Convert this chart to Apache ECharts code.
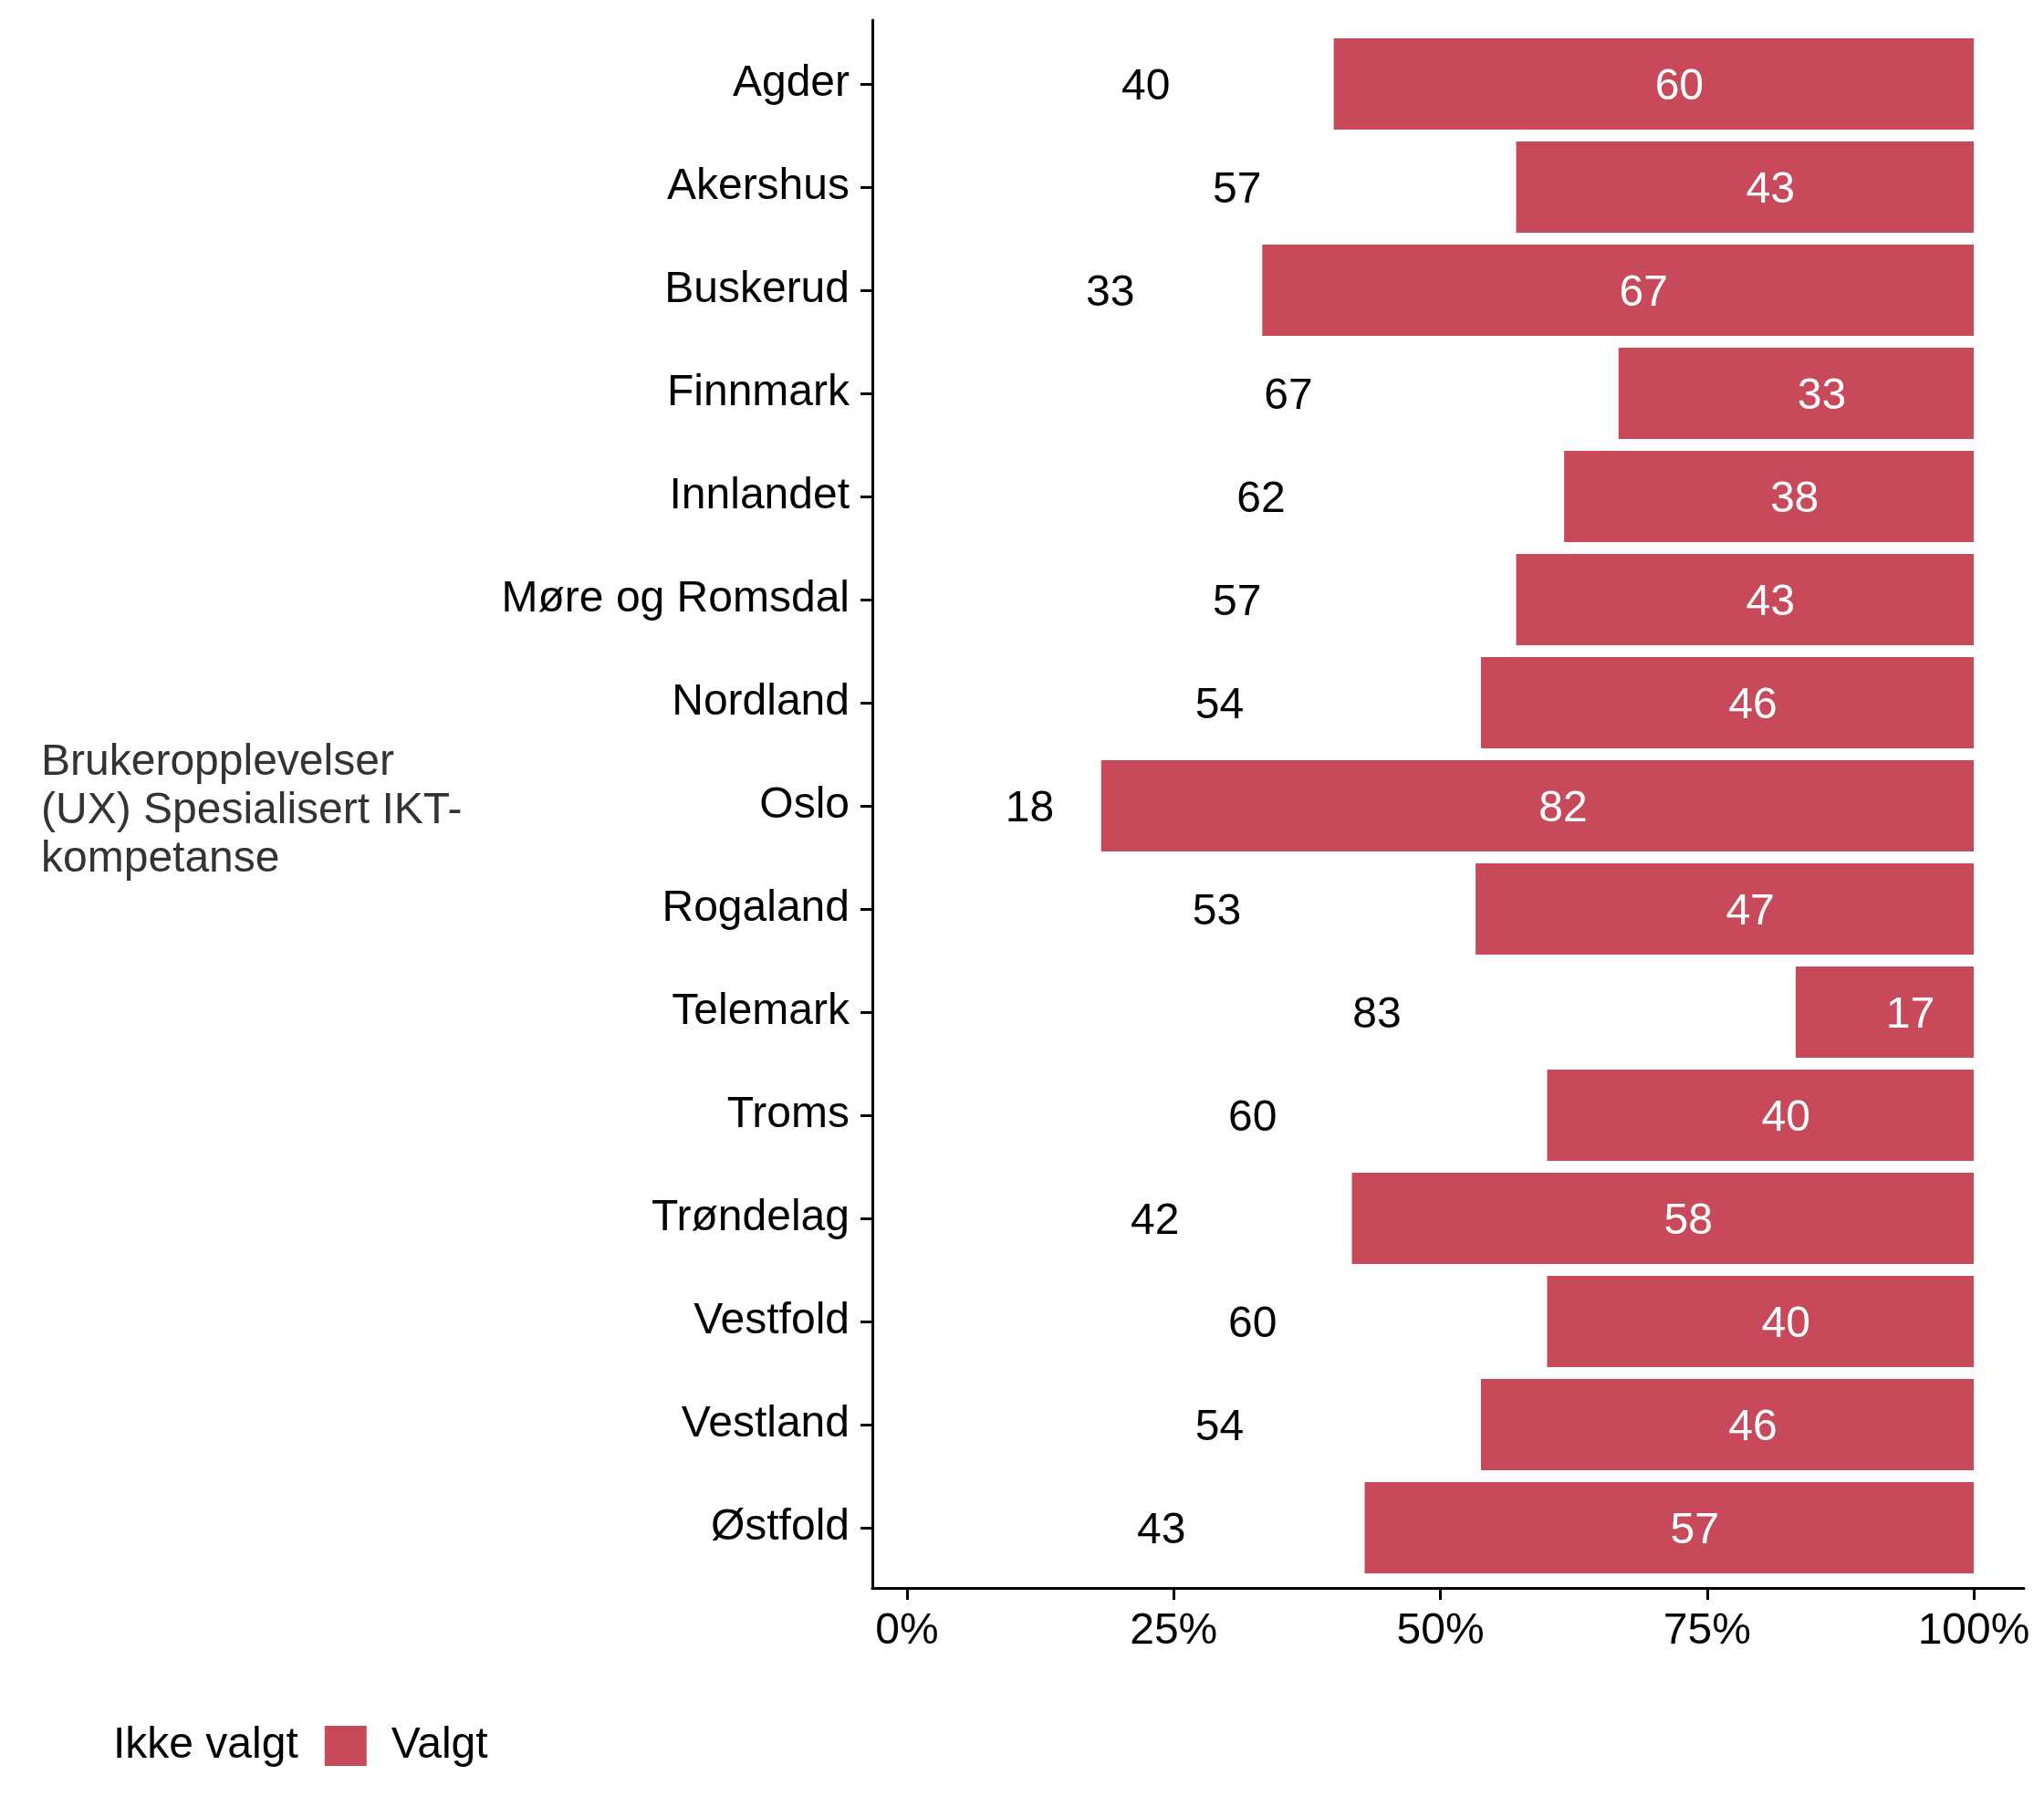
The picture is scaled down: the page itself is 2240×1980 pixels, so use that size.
<!DOCTYPE html>
<html>
<head>
<meta charset="utf-8">
<script src="https://cdn.jsdelivr.net/npm/echarts@6/dist/echarts.min.js"></script>
<style>
html,body{margin:0;padding:0;background:#fff;}
#chart{width:2240px;height:1980px;}
</style>
</head>
<body>
<div id="chart"></div>
<script>
const categories = ['Agder','Akershus','Buskerud','Finnmark','Innlandet','Møre og Romsdal','Nordland','Oslo','Rogaland','Telemark','Troms','Trøndelag','Vestfold','Vestland','Østfold'];
const ikkeValgt = [40, 57.1, 33.3, 66.7, 61.6, 57.1, 53.8, 18.2, 53.3, 83.3, 60, 41.7, 60, 53.8, 42.9];
const valgt = [60, 42.9, 66.7, 33.3, 38.4, 42.9, 46.2, 81.8, 46.7, 16.7, 40, 58.3, 40, 46.2, 57.1];
const xTicks = [0, 25, 50, 75, 100];
const axisTitle = 'Brukeropplevelser\n(UX) Spesialisert IKT-\nkompetanse';

const FONT = '"Liberation Sans", Arial, Helvetica, sans-serif';
const RED = '#C84A5A';
const X_MIN = -3.25, X_MAX = 104.7;

const chart = echarts.init(document.getElementById('chart'), null, {renderer: 'canvas'});
chart.setOption({
  animation: false,
  backgroundColor: '#ffffff',
  textStyle: {fontFamily: FONT},
  title: {
    text: axisTitle,
    left: 40,
    top: 804,
    textStyle: {fontFamily: FONT, fontSize: 48, lineHeight: 53, color: '#333333', fontWeight: 'normal'}
  },
  legend: {
    left: 46,
    top: 1884,
    itemWidth: 46,
    itemHeight: 44,
    itemGap: 29,
    icon: 'rect',
    selectedMode: false,
    textStyle: {fontFamily: FONT, fontSize: 48, color: '#000', padding: [0, 0, 0, 22]},
    data: ['Ikke valgt', 'Valgt']
  },
  grid: [
    {left: 956, right: 22, top: 35.5, height: 1695, containLabel: false},
    {left: 956, right: 22, top: 22, height: 1718, containLabel: false}
  ],
  xAxis: [
    {
      type: 'value',
      gridIndex: 0,
      min: X_MIN,
      max: X_MAX,
      offset: 9.5,
      axisLine: {show: false, onZero: false},
      axisTick: {show: true, length: 13, customValues: xTicks, lineStyle: {color: '#000', width: 3}},
      axisLabel: {customValues: xTicks, formatter: '{value}%', fontFamily: FONT, fontSize: 48, color: '#000', margin: 24},
      splitLine: {show: false}
    },
    {
      type: 'value',
      gridIndex: 1,
      min: X_MIN,
      max: X_MAX,
      axisLine: {show: true, onZero: false, lineStyle: {color: '#000', width: 3}},
      axisTick: {show: false},
      axisLabel: {show: false},
      splitLine: {show: false}
    }
  ],
  yAxis: [
    {
      type: 'category',
      gridIndex: 0,
      inverse: true,
      data: categories,
      axisLine: {show: false, onZero: false},
      axisTick: {show: true, length: 13, alignWithLabel: true, lineStyle: {color: '#000', width: 3}},
      axisLabel: {fontFamily: FONT, fontSize: 48, color: '#000', margin: 25, padding: [8, 0, 0, 0]},
      splitLine: {show: false}
    },
    {
      type: 'value',
      gridIndex: 1,
      min: 0,
      max: 1,
      axisLine: {show: true, onZero: false, lineStyle: {color: '#000', width: 3}},
      axisTick: {show: false},
      axisLabel: {show: false},
      splitLine: {show: false}
    }
  ],
  series: [
    {
      name: 'Ikke valgt',
      type: 'bar',
      stack: 'total',
      barWidth: '88.5%',
      data: ikkeValgt,
      itemStyle: {color: 'rgba(0,0,0,0)'},
      label: {
        show: true, position: 'inside', offset: [28, 4],
        fontFamily: FONT, fontSize: 48, color: '#000',
        formatter: p => Math.round(p.value)
      }
    },
    {
      name: 'Valgt',
      type: 'bar',
      stack: 'total',
      barWidth: '88.5%',
      data: valgt,
      itemStyle: {color: RED},
      label: {
        show: true, position: 'inside', offset: [28, 4],
        fontFamily: FONT, fontSize: 48, color: '#fff',
        formatter: p => Math.round(p.value)
      }
    }
  ]
});
</script>
</body>
</html>
